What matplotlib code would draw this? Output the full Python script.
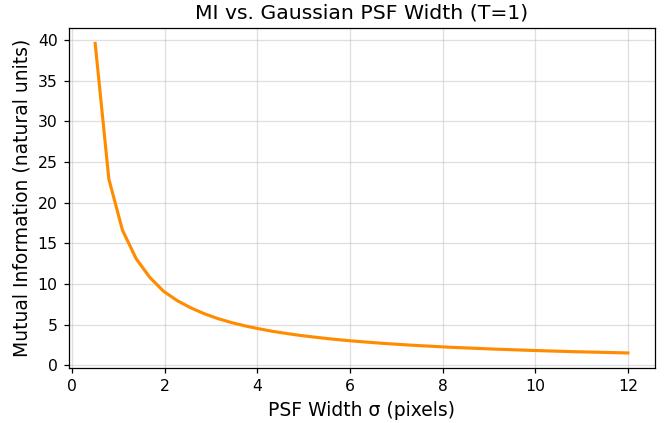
import numpy as np
import matplotlib.pyplot as plt

# PSF widths (pixels), 40 evenly spaced samples from 0.5 to 12
sigma = np.linspace(0.5, 12, 40)

# mutual information (natural units)
mi = [39.6, 22.9, 16.6, 13.1, 10.8, 9.1, 7.95, 7.05, 6.32, 5.72,
      5.23, 4.82, 4.47, 4.16, 3.90, 3.66, 3.46, 3.27, 3.10, 2.95,
      2.82, 2.69, 2.58, 2.47, 2.38, 2.29, 2.20, 2.13, 2.06, 1.99,
      1.93, 1.87, 1.81, 1.76, 1.71, 1.66, 1.62, 1.58, 1.54, 1.50]

dpi = 112.5
fig, ax = plt.subplots(figsize=(672 / dpi, 423 / dpi), dpi=dpi)
ax.plot(sigma, mi, color='darkorange', linewidth=2)

ax.set_title('MI vs. Gaussian PSF Width (T=1)', fontsize=13)
ax.set_xlabel('PSF Width σ (pixels)', fontsize=12)
ax.set_ylabel('Mutual Information (natural units)', fontsize=12)
ax.grid(True, alpha=0.4)

fig.subplots_adjust(left=0.102, right=0.974, top=0.934, bottom=0.129)
plt.savefig('out.png', dpi=dpi)
